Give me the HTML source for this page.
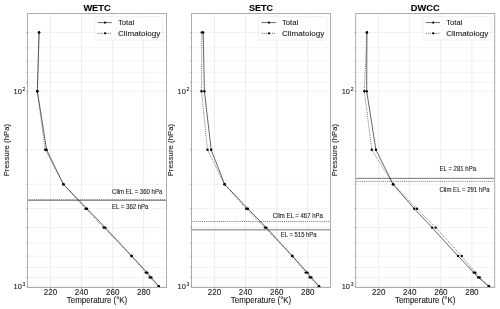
<!DOCTYPE html>
<html><head><meta charset="utf-8"><style>html,body{margin:0;padding:0;background:#fff;overflow:hidden}svg{display:block;will-change:transform}text{font-family:"Liberation Sans",sans-serif;fill:#1a1a1a;stroke:#1a1a1a;stroke-width:0.1px}</style></head><body>
<svg width="500" height="309" viewBox="0 0 500 309">
<rect width="500" height="309" fill="#fff"/>
<path d="M27.50 32.47H166.50 M27.50 47.92H166.50 M27.50 60.98H166.50 M27.50 72.29H166.50 M27.50 82.27H166.50 M27.50 91.20H166.50 M27.50 149.93H166.50 M27.50 184.29H166.50 M27.50 208.66H166.50 M27.50 227.57H166.50 M27.50 243.02H166.50 M27.50 256.08H166.50 M27.50 267.39H166.50 M27.50 277.37H166.50 M27.50 286.30H166.50" stroke="#f2f2f2" stroke-width="1" fill="none"/>
<path d="M50.50 13.50V287.50 M81.50 13.50V287.50 M112.70 13.50V287.50 M143.70 13.50V287.50" stroke="#ededed" stroke-width="1" fill="none"/>
<path d="M27.50 200.25H166.50" stroke="#555" stroke-width="0.8" fill="none"/>
<path d="M27.50 199.75H166.50" stroke="#444" stroke-width="0.7" stroke-dasharray="1.05 1.05" fill="none"/>
<polyline points="39.10,32.40 37.35,91.20 46.60,149.80 63.40,184.30 87.00,208.70 105.30,227.60 131.60,256.00 147.20,272.60 151.30,277.40 158.80,286.30" stroke="#000" stroke-width="0.6" fill="none"/>
<polyline points="39.10,32.40 37.35,91.20 45.20,149.80 63.40,184.30 85.60,208.70 103.70,227.60 131.60,256.00 145.80,272.60 149.70,277.40 158.80,286.30" stroke="#333" stroke-width="0.65" stroke-dasharray="1.05 1.05" fill="none"/>
<circle cx="39.10" cy="32.40" r="1.2" fill="#000"/>
<circle cx="39.10" cy="32.40" r="1.2" fill="#000"/>
<circle cx="37.35" cy="91.20" r="1.2" fill="#000"/>
<circle cx="37.35" cy="91.20" r="1.2" fill="#000"/>
<circle cx="46.60" cy="149.80" r="1.2" fill="#000"/>
<circle cx="45.20" cy="149.80" r="1.2" fill="#000"/>
<circle cx="63.40" cy="184.30" r="1.2" fill="#000"/>
<circle cx="63.40" cy="184.30" r="1.2" fill="#000"/>
<circle cx="87.00" cy="208.70" r="1.2" fill="#000"/>
<circle cx="85.60" cy="208.70" r="1.2" fill="#000"/>
<circle cx="105.30" cy="227.60" r="1.2" fill="#000"/>
<circle cx="103.70" cy="227.60" r="1.2" fill="#000"/>
<circle cx="131.60" cy="256.00" r="1.2" fill="#000"/>
<circle cx="131.60" cy="256.00" r="1.2" fill="#000"/>
<circle cx="147.20" cy="272.60" r="1.2" fill="#000"/>
<circle cx="145.80" cy="272.60" r="1.2" fill="#000"/>
<circle cx="151.30" cy="277.40" r="1.2" fill="#000"/>
<circle cx="149.70" cy="277.40" r="1.2" fill="#000"/>
<circle cx="158.80" cy="286.30" r="1.2" fill="#000"/>
<circle cx="158.80" cy="286.30" r="1.2" fill="#000"/>
<rect x="27.50" y="13.50" width="139.00" height="274.00" fill="none" stroke="#adadad" stroke-width="1"/>
<path d="M26.20 32.47H27.50 M26.20 47.92H27.50 M26.20 60.98H27.50 M26.20 72.29H27.50 M26.20 82.27H27.50 M26.20 91.20H27.50 M26.20 149.93H27.50 M26.20 184.29H27.50 M26.20 208.66H27.50 M26.20 227.57H27.50 M26.20 243.02H27.50 M26.20 256.08H27.50 M26.20 267.39H27.50 M26.20 277.37H27.50 M26.20 286.30H27.50 M50.50 287.50V288.80 M81.50 287.50V288.80 M112.70 287.50V288.80 M143.70 287.50V288.80" stroke="#777" stroke-width="0.6" fill="none"/>
<text x="50.50" y="294.8" font-size="8.2" text-anchor="middle" textLength="13.4" lengthAdjust="spacingAndGlyphs">220</text>
<text x="81.50" y="294.8" font-size="8.2" text-anchor="middle" textLength="13.4" lengthAdjust="spacingAndGlyphs">240</text>
<text x="112.70" y="294.8" font-size="8.2" text-anchor="middle" textLength="13.4" lengthAdjust="spacingAndGlyphs">260</text>
<text x="143.70" y="294.8" font-size="8.2" text-anchor="middle" textLength="13.4" lengthAdjust="spacingAndGlyphs">280</text>
<text x="13.50" y="94.10" font-size="8.0" textLength="8.3" lengthAdjust="spacingAndGlyphs">10</text>
<text x="22.50" y="90.60" font-size="5.0">2</text>
<text x="13.50" y="289.20" font-size="8.0" textLength="8.3" lengthAdjust="spacingAndGlyphs">10</text>
<text x="22.50" y="285.70" font-size="5.0">3</text>
<text x="97.00" y="302.8" font-size="8.4" text-anchor="middle" textLength="60.5" lengthAdjust="spacingAndGlyphs">Temperature (°K)</text>
<text transform="translate(9.20,150.1) rotate(-90)" font-size="7.7" text-anchor="middle" textLength="52.5" lengthAdjust="spacingAndGlyphs">Pressure (hPa)</text>
<text x="97.00" y="11.3" font-size="8.8" font-weight="bold" text-anchor="middle" textLength="27.10" lengthAdjust="spacingAndGlyphs" style="fill:#000">WETC</text>
<text x="112.10" y="209.20" font-size="6.6" textLength="36.30" lengthAdjust="spacingAndGlyphs">EL = 362 hPa</text>
<text x="112.10" y="194.30" font-size="6.6" textLength="50.20" lengthAdjust="spacingAndGlyphs">Clim EL = 360 hPa</text>
<rect x="94.50" y="16.70" width="68.30" height="23.40" rx="1.6" fill="#fff" fill-opacity="0.85" stroke="#e6e6e6" stroke-width="0.6"/>
<path d="M97.50 22.6H111.90" stroke="#000" stroke-width="0.6"/>
<circle cx="105.00" cy="22.6" r="1.1" fill="#000"/>
<path d="M97.50 33.3H111.90" stroke="#000" stroke-width="0.6" stroke-dasharray="1.05 1.05"/>
<circle cx="105.00" cy="33.3" r="1.1" fill="#000"/>
<text x="118.00" y="25.3" font-size="8.0" textLength="16.2" lengthAdjust="spacingAndGlyphs">Total</text>
<text x="118.00" y="36.0" font-size="8.0" textLength="42.2" lengthAdjust="spacingAndGlyphs">Climatology</text>
<path d="M191.50 32.47H330.50 M191.50 47.92H330.50 M191.50 60.98H330.50 M191.50 72.29H330.50 M191.50 82.27H330.50 M191.50 91.20H330.50 M191.50 149.93H330.50 M191.50 184.29H330.50 M191.50 208.66H330.50 M191.50 227.57H330.50 M191.50 243.02H330.50 M191.50 256.08H330.50 M191.50 267.39H330.50 M191.50 277.37H330.50 M191.50 286.30H330.50" stroke="#f2f2f2" stroke-width="1" fill="none"/>
<path d="M214.50 13.50V287.50 M245.50 13.50V287.50 M276.70 13.50V287.50 M307.70 13.50V287.50" stroke="#ededed" stroke-width="1" fill="none"/>
<path d="M191.50 229.85H330.50" stroke="#555" stroke-width="0.8" fill="none"/>
<path d="M191.50 221.50H330.50" stroke="#444" stroke-width="0.7" stroke-dasharray="1.05 1.05" fill="none"/>
<polyline points="203.20,32.40 204.40,91.20 211.20,149.80 224.60,184.30 247.90,208.70 266.40,227.60 292.30,256.00 307.50,272.60 311.30,277.40 319.00,286.30" stroke="#000" stroke-width="0.6" fill="none"/>
<polyline points="201.80,32.40 201.50,91.20 207.50,149.80 224.60,184.30 246.20,208.70 264.90,227.60 292.30,256.00 305.70,272.60 309.70,277.40 319.00,286.30" stroke="#333" stroke-width="0.65" stroke-dasharray="1.05 1.05" fill="none"/>
<circle cx="203.20" cy="32.40" r="1.2" fill="#000"/>
<circle cx="201.80" cy="32.40" r="1.2" fill="#000"/>
<circle cx="204.40" cy="91.20" r="1.2" fill="#000"/>
<circle cx="201.50" cy="91.20" r="1.2" fill="#000"/>
<circle cx="211.20" cy="149.80" r="1.2" fill="#000"/>
<circle cx="207.50" cy="149.80" r="1.2" fill="#000"/>
<circle cx="224.60" cy="184.30" r="1.2" fill="#000"/>
<circle cx="224.60" cy="184.30" r="1.2" fill="#000"/>
<circle cx="247.90" cy="208.70" r="1.2" fill="#000"/>
<circle cx="246.20" cy="208.70" r="1.2" fill="#000"/>
<circle cx="266.40" cy="227.60" r="1.2" fill="#000"/>
<circle cx="264.90" cy="227.60" r="1.2" fill="#000"/>
<circle cx="292.30" cy="256.00" r="1.2" fill="#000"/>
<circle cx="292.30" cy="256.00" r="1.2" fill="#000"/>
<circle cx="307.50" cy="272.60" r="1.2" fill="#000"/>
<circle cx="305.70" cy="272.60" r="1.2" fill="#000"/>
<circle cx="311.30" cy="277.40" r="1.2" fill="#000"/>
<circle cx="309.70" cy="277.40" r="1.2" fill="#000"/>
<circle cx="319.00" cy="286.30" r="1.2" fill="#000"/>
<circle cx="319.00" cy="286.30" r="1.2" fill="#000"/>
<rect x="191.50" y="13.50" width="139.00" height="274.00" fill="none" stroke="#adadad" stroke-width="1"/>
<path d="M190.20 32.47H191.50 M190.20 47.92H191.50 M190.20 60.98H191.50 M190.20 72.29H191.50 M190.20 82.27H191.50 M190.20 91.20H191.50 M190.20 149.93H191.50 M190.20 184.29H191.50 M190.20 208.66H191.50 M190.20 227.57H191.50 M190.20 243.02H191.50 M190.20 256.08H191.50 M190.20 267.39H191.50 M190.20 277.37H191.50 M190.20 286.30H191.50 M214.50 287.50V288.80 M245.50 287.50V288.80 M276.70 287.50V288.80 M307.70 287.50V288.80" stroke="#777" stroke-width="0.6" fill="none"/>
<text x="214.50" y="294.8" font-size="8.2" text-anchor="middle" textLength="13.4" lengthAdjust="spacingAndGlyphs">220</text>
<text x="245.50" y="294.8" font-size="8.2" text-anchor="middle" textLength="13.4" lengthAdjust="spacingAndGlyphs">240</text>
<text x="276.70" y="294.8" font-size="8.2" text-anchor="middle" textLength="13.4" lengthAdjust="spacingAndGlyphs">260</text>
<text x="307.70" y="294.8" font-size="8.2" text-anchor="middle" textLength="13.4" lengthAdjust="spacingAndGlyphs">280</text>
<text x="177.50" y="94.10" font-size="8.0" textLength="8.3" lengthAdjust="spacingAndGlyphs">10</text>
<text x="186.50" y="90.60" font-size="5.0">2</text>
<text x="177.50" y="289.20" font-size="8.0" textLength="8.3" lengthAdjust="spacingAndGlyphs">10</text>
<text x="186.50" y="285.70" font-size="5.0">3</text>
<text x="261.00" y="302.8" font-size="8.4" text-anchor="middle" textLength="60.5" lengthAdjust="spacingAndGlyphs">Temperature (°K)</text>
<text transform="translate(173.20,150.1) rotate(-90)" font-size="7.7" text-anchor="middle" textLength="52.5" lengthAdjust="spacingAndGlyphs">Pressure (hPa)</text>
<text x="261.00" y="11.3" font-size="8.8" font-weight="bold" text-anchor="middle" textLength="24.10" lengthAdjust="spacingAndGlyphs" style="fill:#000">SETC</text>
<text x="280.80" y="236.80" font-size="6.6" textLength="35.80" lengthAdjust="spacingAndGlyphs">EL = 515 hPa</text>
<text x="272.80" y="218.00" font-size="6.6" textLength="50.10" lengthAdjust="spacingAndGlyphs">Clim EL = 467 hPa</text>
<rect x="258.50" y="16.70" width="68.30" height="23.40" rx="1.6" fill="#fff" fill-opacity="0.85" stroke="#e6e6e6" stroke-width="0.6"/>
<path d="M261.50 22.6H275.90" stroke="#000" stroke-width="0.6"/>
<circle cx="269.00" cy="22.6" r="1.1" fill="#000"/>
<path d="M261.50 33.3H275.90" stroke="#000" stroke-width="0.6" stroke-dasharray="1.05 1.05"/>
<circle cx="269.00" cy="33.3" r="1.1" fill="#000"/>
<text x="282.00" y="25.3" font-size="8.0" textLength="16.2" lengthAdjust="spacingAndGlyphs">Total</text>
<text x="282.00" y="36.0" font-size="8.0" textLength="42.2" lengthAdjust="spacingAndGlyphs">Climatology</text>
<path d="M355.70 32.47H494.70 M355.70 47.92H494.70 M355.70 60.98H494.70 M355.70 72.29H494.70 M355.70 82.27H494.70 M355.70 91.20H494.70 M355.70 149.93H494.70 M355.70 184.29H494.70 M355.70 208.66H494.70 M355.70 227.57H494.70 M355.70 243.02H494.70 M355.70 256.08H494.70 M355.70 267.39H494.70 M355.70 277.37H494.70 M355.70 286.30H494.70" stroke="#f2f2f2" stroke-width="1" fill="none"/>
<path d="M378.70 13.50V287.50 M409.70 13.50V287.50 M440.90 13.50V287.50 M471.90 13.50V287.50" stroke="#ededed" stroke-width="1" fill="none"/>
<path d="M355.70 178.35H494.70" stroke="#555" stroke-width="0.8" fill="none"/>
<path d="M355.70 181.40H494.70" stroke="#444" stroke-width="0.7" stroke-dasharray="1.05 1.05" fill="none"/>
<polyline points="366.90,32.40 366.70,91.20 375.90,149.80 393.10,184.30 414.20,208.70 432.10,227.60 458.00,256.00 473.80,272.60 478.20,277.40 488.90,286.30" stroke="#000" stroke-width="0.6" fill="none"/>
<polyline points="366.90,32.40 364.30,91.20 371.80,149.80 393.10,184.30 417.00,208.70 435.70,227.60 461.70,256.00 475.30,272.60 479.70,277.40 488.90,286.30" stroke="#333" stroke-width="0.65" stroke-dasharray="1.05 1.05" fill="none"/>
<circle cx="366.90" cy="32.40" r="1.2" fill="#000"/>
<circle cx="366.90" cy="32.40" r="1.2" fill="#000"/>
<circle cx="366.70" cy="91.20" r="1.2" fill="#000"/>
<circle cx="364.30" cy="91.20" r="1.2" fill="#000"/>
<circle cx="375.90" cy="149.80" r="1.2" fill="#000"/>
<circle cx="371.80" cy="149.80" r="1.2" fill="#000"/>
<circle cx="393.10" cy="184.30" r="1.2" fill="#000"/>
<circle cx="393.10" cy="184.30" r="1.2" fill="#000"/>
<circle cx="414.20" cy="208.70" r="1.2" fill="#000"/>
<circle cx="417.00" cy="208.70" r="1.2" fill="#000"/>
<circle cx="432.10" cy="227.60" r="1.2" fill="#000"/>
<circle cx="435.70" cy="227.60" r="1.2" fill="#000"/>
<circle cx="458.00" cy="256.00" r="1.2" fill="#000"/>
<circle cx="461.70" cy="256.00" r="1.2" fill="#000"/>
<circle cx="473.80" cy="272.60" r="1.2" fill="#000"/>
<circle cx="475.30" cy="272.60" r="1.2" fill="#000"/>
<circle cx="478.20" cy="277.40" r="1.2" fill="#000"/>
<circle cx="479.70" cy="277.40" r="1.2" fill="#000"/>
<circle cx="488.90" cy="286.30" r="1.2" fill="#000"/>
<circle cx="488.90" cy="286.30" r="1.2" fill="#000"/>
<rect x="355.70" y="13.50" width="139.00" height="274.00" fill="none" stroke="#adadad" stroke-width="1"/>
<path d="M354.40 32.47H355.70 M354.40 47.92H355.70 M354.40 60.98H355.70 M354.40 72.29H355.70 M354.40 82.27H355.70 M354.40 91.20H355.70 M354.40 149.93H355.70 M354.40 184.29H355.70 M354.40 208.66H355.70 M354.40 227.57H355.70 M354.40 243.02H355.70 M354.40 256.08H355.70 M354.40 267.39H355.70 M354.40 277.37H355.70 M354.40 286.30H355.70 M378.70 287.50V288.80 M409.70 287.50V288.80 M440.90 287.50V288.80 M471.90 287.50V288.80" stroke="#777" stroke-width="0.6" fill="none"/>
<text x="378.70" y="294.8" font-size="8.2" text-anchor="middle" textLength="13.4" lengthAdjust="spacingAndGlyphs">220</text>
<text x="409.70" y="294.8" font-size="8.2" text-anchor="middle" textLength="13.4" lengthAdjust="spacingAndGlyphs">240</text>
<text x="440.90" y="294.8" font-size="8.2" text-anchor="middle" textLength="13.4" lengthAdjust="spacingAndGlyphs">260</text>
<text x="471.90" y="294.8" font-size="8.2" text-anchor="middle" textLength="13.4" lengthAdjust="spacingAndGlyphs">280</text>
<text x="341.70" y="94.10" font-size="8.0" textLength="8.3" lengthAdjust="spacingAndGlyphs">10</text>
<text x="350.70" y="90.60" font-size="5.0">2</text>
<text x="341.70" y="289.20" font-size="8.0" textLength="8.3" lengthAdjust="spacingAndGlyphs">10</text>
<text x="350.70" y="285.70" font-size="5.0">3</text>
<text x="425.20" y="302.8" font-size="8.4" text-anchor="middle" textLength="60.5" lengthAdjust="spacingAndGlyphs">Temperature (°K)</text>
<text transform="translate(337.40,150.1) rotate(-90)" font-size="7.7" text-anchor="middle" textLength="52.5" lengthAdjust="spacingAndGlyphs">Pressure (hPa)</text>
<text x="425.20" y="11.3" font-size="8.8" font-weight="bold" text-anchor="middle" textLength="28.80" lengthAdjust="spacingAndGlyphs" style="fill:#000">DWCC</text>
<text x="439.60" y="171.00" font-size="6.6" textLength="36.40" lengthAdjust="spacingAndGlyphs">EL = 281 hPa</text>
<text x="439.40" y="191.90" font-size="6.6" textLength="50.20" lengthAdjust="spacingAndGlyphs">Clim EL = 291 hPa</text>
<rect x="422.70" y="16.70" width="68.30" height="23.40" rx="1.6" fill="#fff" fill-opacity="0.85" stroke="#e6e6e6" stroke-width="0.6"/>
<path d="M425.70 22.6H440.10" stroke="#000" stroke-width="0.6"/>
<circle cx="433.20" cy="22.6" r="1.1" fill="#000"/>
<path d="M425.70 33.3H440.10" stroke="#000" stroke-width="0.6" stroke-dasharray="1.05 1.05"/>
<circle cx="433.20" cy="33.3" r="1.1" fill="#000"/>
<text x="446.20" y="25.3" font-size="8.0" textLength="16.2" lengthAdjust="spacingAndGlyphs">Total</text>
<text x="446.20" y="36.0" font-size="8.0" textLength="42.2" lengthAdjust="spacingAndGlyphs">Climatology</text>
</svg></body></html>
